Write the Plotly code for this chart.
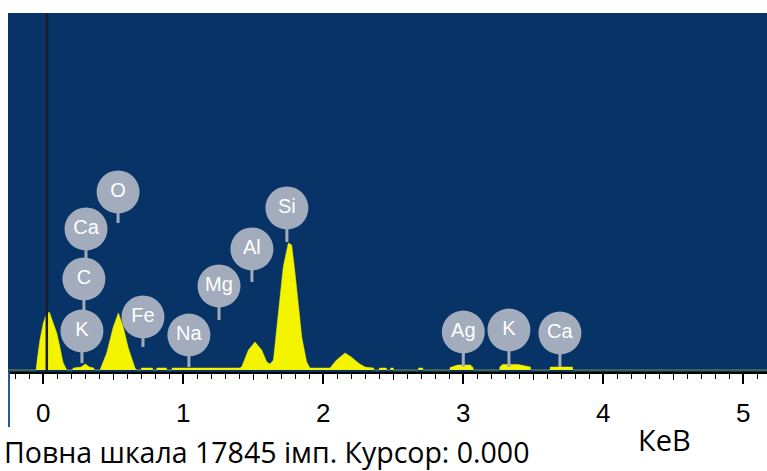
import plotly.graph_objects as go

# ---------------- data ----------------
spec_kev = [
    -0.25, -0.052, -0.04, -0.024, 0.0, 0.02, 0.043, 0.07, 0.096, 0.12, 0.14, 0.167,
    0.205, 0.215, 0.27, 0.30, 0.33, 0.36, 0.365,
    0.405, 0.453, 0.50, 0.536, 0.571, 0.607, 0.655, 0.667,
    0.70, 0.701, 0.78, 0.781,
    0.81, 0.811, 0.88, 0.881,
    0.92, 0.921, 1.40, 1.417, 1.465, 1.512, 1.56, 1.596, 1.62,
    1.644, 1.679, 1.714, 1.75, 1.774, 1.798, 1.821, 1.846, 1.881, 1.905,
    2.048, 2.095, 2.155, 2.20, 2.25, 2.298, 2.36, 2.361,
    2.40, 2.401, 2.45, 2.451, 2.48, 2.481, 2.50, 2.501,
    2.68, 2.681, 2.71, 2.711,
    2.905, 2.906, 2.96, 3.05, 3.07, 3.071,
    3.26, 3.261, 3.28, 3.39, 3.48, 3.481,
    3.62, 3.621, 3.78, 3.781,
    5.2,
]
spec_counts = [
    0, 0, 700, 1500, 2350, 2750, 2900, 2400, 1850, 1100, 400, 0,
    0, 100, 150, 300, 150, 100, 0,
    0, 850, 2150, 2850, 2150, 1100, 100, 0,
    0, 100, 100, 0,
    0, 100, 100, 0,
    0, 100, 100, 150, 1000, 1400, 1000, 400, 300,
    500, 2850, 5150, 6350, 6250, 4850, 3150, 1650, 400, 100,
    100, 500, 850, 650, 350, 150, 100, 0,
    0, 100, 100, 0, 0, 100, 100, 0,
    0, 100, 100, 0,
    0, 120, 250, 250, 120, 0,
    0, 150, 280, 280, 150, 0,
    0, 150, 150, 0,
    0,
]
assert len(spec_kev) == len(spec_counts)

full_scale = 17845
cursor_kev = 0.025
cursor_text = "0.000"

label_names = ["K", "C", "Ca", "O", "Fe", "Na", "Mg", "Al", "Si", "Ag", "K", "Ca"]
label_kev = [0.276, 0.29, 0.305, 0.534, 0.712, 1.04, 1.255, 1.49, 1.74, 3.0, 3.326, 3.69]
label_level = [1950, 4550, 7050, 8900, 2650, 1750, 4200, 6050, 8100, 1900, 2000, 1850]
stem_bottom = [350, 1950, 4550, 7350, 1150, 150, 2500, 4400, 6400, 150, 150, 150]

major_ticks = [0, 1, 2, 3, 4, 5]
half_ticks = [0.5, 1.5, 2.5, 3.5, 4.5]
x_title = "КеВ"
footer = f"Повна шкала {full_scale} імп. Курсор: {cursor_text}"

# ---------------- styling ----------------
W, H = 767, 471
PL, PT, PR, PB = 8, 13, 0, 99
plot_w = W - PL - PR
plot_h = H - PT - PB
BG = "#073366"
YELLOW = "#f4f400"
GRAY = "#a2acbc"


def px_x(px):
    return (px - PL) / plot_w


def px_y(py):
    return (H - PB - py) / plot_h


fig = go.Figure()

fig.add_trace(go.Scatter(
    x=spec_kev, y=spec_counts, mode="lines", fill="tozeroy",
    fillcolor=YELLOW, line=dict(color=YELLOW, width=0.5),
    hoverinfo="skip", showlegend=False,
))

# stems
sx, sy = [], []
for e, lv, sb in zip(label_kev, label_level, stem_bottom):
    sx += [e, e, None]
    sy += [lv, sb, None]
fig.add_trace(go.Scatter(
    x=sx, y=sy, mode="lines", line=dict(color=GRAY, width=3),
    hoverinfo="skip", showlegend=False,
))

fig.add_trace(go.Scatter(
    x=label_kev, y=label_level, mode="markers+text", text=label_names,
    textposition="middle center",
    textfont=dict(family="Liberation Sans, Arial", size=20, color="white"),
    marker=dict(size=43, color=GRAY, line=dict(width=0)),
    hoverinfo="skip", showlegend=False,
))

# invisible trace for the half-tick axis
fig.add_trace(go.Scatter(x=[0], y=[0], xaxis="x2", mode="markers",
                         marker=dict(opacity=0), hoverinfo="skip", showlegend=False))

xr = [(8 - 43.3) / 140.0, (767 - 43.3) / 140.0]

fig.update_layout(
    width=W, height=H,
    margin=dict(l=PL, r=PR, t=PT, b=PB, pad=0),
    paper_bgcolor="white", plot_bgcolor=BG,
    xaxis=dict(
        range=xr, tickmode="array", tickvals=major_ticks,
        ticktext=[str(t) for t in major_ticks],
        ticks="outside", ticklen=10, tickwidth=1.5, tickcolor="black",
        showline=True, linecolor="black", linewidth=1.5,
        showgrid=False, zeroline=False,
        tickfont=dict(family="Liberation Sans Narrow, Liberation Sans, Arial", size=26, color="black"),
        ticklabelstandoff=7,
        minor=dict(dtick=0.1, tick0=0, ticks="outside", ticklen=5,
                   tickwidth=1.2, tickcolor="black", showgrid=False),
    ),
    xaxis2=dict(
        range=xr, overlaying="x", anchor="y", side="bottom",
        tickmode="array", tickvals=half_ticks, ticks="outside", ticklen=7,
        tickwidth=1.2, tickcolor="black", showticklabels=False,
        showgrid=False, zeroline=False, showline=False,
    ),
    yaxis=dict(range=[-100, full_scale], showticklabels=False, showgrid=False,
               zeroline=False, ticks=""),
    shapes=[
        dict(type="line", xref="x", yref="paper", x0=cursor_kev, x1=cursor_kev,
             y0=0, y1=1, line=dict(color="#1c1c28", width=2.5)),
        dict(type="line", xref="paper", yref="paper", x0=px_x(9), x1=px_x(9),
             y0=0, y1=px_y(427), line=dict(color="#2a55a0", width=2)),
    ],
    annotations=[
        dict(text=footer, xref="paper", yref="paper", x=px_x(2), y=px_y(452),
             xanchor="left", yanchor="middle", showarrow=False,
             font=dict(family="Open Sans", size=28.5, color="black")),
        dict(text=x_title, xref="paper", yref="paper", x=px_x(636), y=px_y(439),
             xanchor="left", yanchor="middle", showarrow=False,
             font=dict(family="Open Sans", size=29, color="black")),
    ],
)

fig.write_html("out.html", config={"displayModeBar": False},
               post_script="document.body.style.margin='0px';")
